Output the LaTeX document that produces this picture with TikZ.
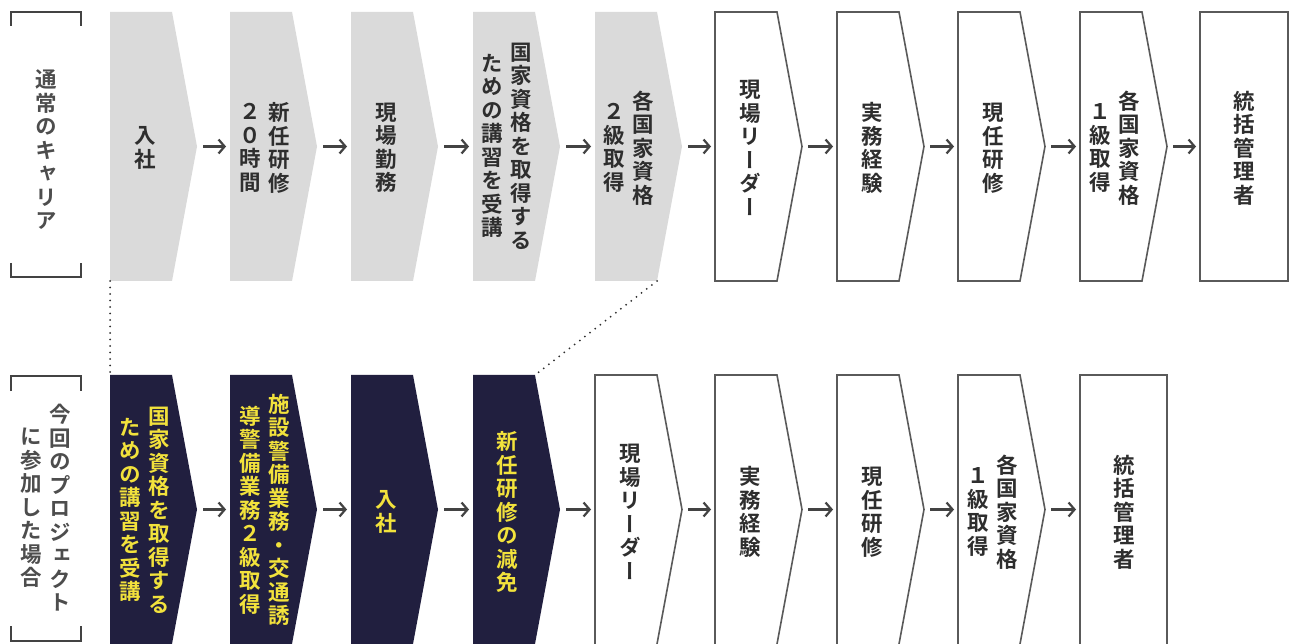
\documentclass[tikz,border=0pt]{standalone}
\usepackage{fontspec}
\usetikzlibrary{arrows.meta}
\newfontfamily\jp{Noto Sans CJK JP}[RawFeature=+vert]
\newfontfamily\jpb{Noto Sans CJK JP Bold}[RawFeature=+vert]
\definecolor{grayfill}{HTML}{DADADA}
\definecolor{navy}{HTML}{211F3F}
\definecolor{yel}{HTML}{F2E23C}
\definecolor{ink}{HTML}{2E2E2E}
\definecolor{edge}{HTML}{5A5A5A}
\makeatletter
\newcommand\vcol[1]{$\vcenter{\baselineskip=23.5pt\lineskiplimit=-100pt\lineskip=0pt\@tfor\vc@ch:=#1\do{\hbox to 21pt{\hss\vc@ch\hss}}}$}
\makeatother
\newcommand\vtwo[2]{\vcol{#2}\hspace{8pt}\vcol{#1}}
% chevron: name, left x, top y, style, extra bottom
\newcommand\chev[5]{\path[#4] (#2,#3) -- ++(62,0) -- ++(25,134.5) -- ++(-25,134.5) -- ++(0,#5) -- ++(-62,0) -- cycle;
\coordinate (#1w) at (#2,#3+134.5);
\coordinate (#1e) at (#2+87,#3+134.5);
\coordinate (#1tl) at (#2,#3);
\coordinate (#1tr) at (#2+62,#3);
\coordinate (#1bl) at (#2,#3+269);
\coordinate (#1br) at (#2+62,#3+269);}
\tikzset{
 lbl/.style={inner sep=0pt, text=ink, font=\jpb\fontsize{21.5}{23.5}\selectfont},
 lbly/.style={lbl, text=yel},
 side/.style={inner sep=0pt, text=ink!85, font=\jpb\fontsize{21.5}{23.5}\selectfont},
 arr/.style={draw=ink!90, line width=2.2pt, -{Straight Barb[length=6pt,width=14pt,line width=2.2pt]}, shorten <=6pt, shorten >=4pt},
 dots/.style={draw=ink, line width=2pt, line cap=round, dash pattern=on 0pt off 6.5pt},
 br/.style={draw=ink!90, line width=2pt},
 grayb/.style={fill=grayfill},
 navyb/.style={fill=navy},
 whiteb/.style={draw=edge, line width=1.6pt, fill=white},
}
\begin{document}
\begin{tikzpicture}[x=1pt,y=-1pt]
\useasboundingbox (0,0) rectangle (1291,644);
\clip (0,0) rectangle (1291,644);
\fill[white] (0,0) rectangle (1291,644);
% ---- top row ----
\chev{t1}{110}{12}{grayb}{0}
\chev{t2}{230}{12}{grayb}{0}
\chev{t3}{351}{12}{grayb}{0}
\chev{t4}{473}{12}{grayb}{0}
\chev{t5}{595}{12}{grayb}{0}
\chev{t6}{715}{12}{whiteb}{0}
\chev{t7}{837}{12}{whiteb}{0}
\chev{t8}{958}{12}{whiteb}{0}
\chev{t9}{1080}{12}{whiteb}{0}
\path[whiteb] (1200,12) rectangle (1288,281);
\coordinate (t10w) at (1200,146.5);
\node[lbl] (n1) at (145,148) {\vcol{入社}};
\node[lbl] (n2) at (265,148) {\vtwo{新任研修}{２０時間}};
\node[lbl] (n3) at (386,148) {\vcol{現場勤務}};
\node[lbl] (n4) at (507,146) {\vtwo{国家資格を取得する}{ための講習を受講}};
\node[lbl] (n5) at (629,148) {\vtwo{各国家資格}{２級取得}};
\node[lbl] (n6) at (750,148) {\vcol{現場リーダー}};
\node[lbl] (n7) at (872,148) {\vcol{実務経験}};
\node[lbl] (n8) at (993,148) {\vcol{現任研修}};
\node[lbl] (n9) at (1115,148) {\vtwo{各国家資格}{１級取得}};
\node[lbl] (n10) at (1244,148) {\vcol{統括管理者}};
\foreach \a/\b in {t1/t2,t2/t3,t3/t4,t4/t5,t5/t6,t6/t7,t7/t8,t8/t9,t9/t10}
  \draw[arr] (\a e) -- (\b w);
% ---- bottom row ----
\chev{b1}{110}{375}{navyb}{12}
\chev{b2}{230}{375}{navyb}{12}
\chev{b3}{351}{375}{navyb}{12}
\chev{b4}{473}{375}{navyb}{12}
\chev{b5}{595}{375}{whiteb}{12}
\chev{b6}{715}{375}{whiteb}{12}
\chev{b7}{837}{375}{whiteb}{12}
\chev{b8}{958}{375}{whiteb}{12}
\path[whiteb] (1080,375) rectangle (1167,656);
\coordinate (b9w) at (1080,509.5);
\node[lbly] (m1) at (145,510) {\vtwo{国家資格を取得する}{ための講習を受講}};
\node[lbly] (m2) at (265,510) {\vtwo{施設警備業務・交通誘}{導警備業務２級取得}};
\node[lbly] (m3) at (386,512) {\vcol{入社}};
\node[lbly] (m4) at (507,512) {\vcol{新任研修の減免}};
\node[lbl] (m5) at (630,512) {\vcol{現場リーダー}};
\node[lbl] (m6) at (750,512) {\vcol{実務経験}};
\node[lbl] (m7) at (872,512) {\vcol{現任研修}};
\node[lbl] (m8) at (993,512) {\vtwo{各国家資格}{１級取得}};
\node[lbl] (m9) at (1124,512) {\vcol{統括管理者}};
\foreach \a/\b in {b1/b2,b2/b3,b3/b4,b4/b5,b5/b6,b6/b7,b7/b8,b8/b9}
  \draw[arr] (\a e) -- (\b w);
% ---- dotted links ----
\draw[dots] (t1bl) -- (b1tl);
\draw[dots] (t5br) -- (b4tr);
% ---- side labels ----
\draw[br] (11,26) -- (11,12) -- (81,12) -- (81,26);
\draw[br] (11,263) -- (11,277) -- (81,277) -- (81,263);
\node[side] (lab1) at (46,150) {\vcol{通常のキャリア}};
\draw[br] (11,391) -- (11,376) -- (81,376) -- (81,391);
\draw[br] (11,626) -- (11,641) -- (81,641) -- (81,626);
\node[side] (lab2) at (46,508) {\vtwo{今回のプロジェクト}{に参加した場合}};
\end{tikzpicture}
\end{document}
